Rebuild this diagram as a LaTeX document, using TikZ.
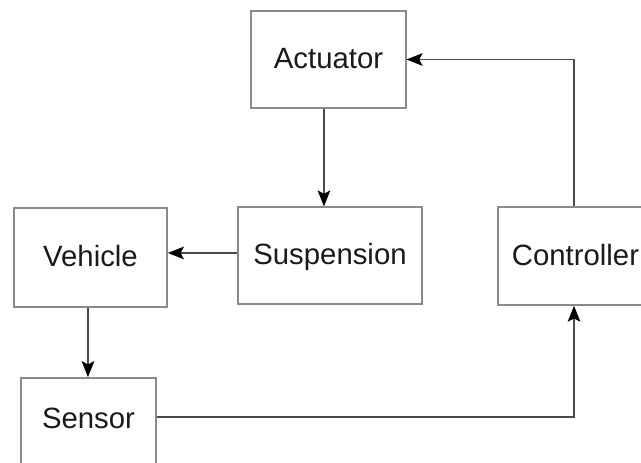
\documentclass[tikz,border=0pt]{standalone}
\usepackage{fontspec}
\setmainfont{Liberation Sans}
\usetikzlibrary{arrows.meta}
\definecolor{boxc}{HTML}{8A8A8A}
\definecolor{linec}{HTML}{4A4A4A}
\definecolor{txtc}{HTML}{1A1A1A}
\begin{document}
\begin{tikzpicture}[x=0.75pt,y=-0.75pt,
  blk/.style={draw=boxc, line width=1.1pt, fill=white, minimum height=73pt, inner sep=0pt,
     font=\fontsize{22}{26}\selectfont, text=txtc, text height=0.716em+7pt, text depth=0pt},
  lbl/.style={font=\fontsize{22}{26}\selectfont, text=txtc, inner sep=0pt, text height=0.716em+7pt, text depth=0pt},
  conn/.style={draw=linec, line width=1.1pt},
  arr/.style={conn, -{Stealth[black, length=12pt, width=9.5pt, inset=2.5pt]}}]
\useasboundingbox (0,0) rectangle (641,462);
\clip (0,0) rectangle (641,462);
\fill[white] (0,0) rectangle (641,462);
\node[blk, minimum width=116pt, minimum height=72.5pt] (actuator) at (328.5,59.5) {Actuator};
\node[blk, minimum width=138pt, minimum height=72.5pt] (suspension) at (330,255.5) {Suspension};
\node[blk, minimum width=115pt, minimum height=74pt] (vehicle) at (90.5,257.5) {Vehicle};
\node[blk, minimum width=116pt, minimum height=73.5pt] (controller) at (575.5,256) {Controller};
\node[blk, minimum width=101pt, minimum height=73pt] (sensor) at (88.5,426.5) {};
\node[lbl] (sensorlbl) at (88.5,419) {Sensor};
\draw[arr] ([xshift=-3.4pt]actuator.south) -- ([xshift=-3.4pt]actuator.south |- suspension.north);
\draw[arr] ([yshift=1.9pt]suspension.west) -- ([yshift=1.9pt]suspension.west -| vehicle.east);
\draw[arr] ([xshift=-1.9pt]vehicle.south) -- ([xshift=-1.9pt]vehicle.south |- sensor.north);
\draw[arr] ([xshift=-1.1pt]controller.north) -- ([xshift=-1.1pt]controller.north |- actuator.east) -- (actuator.east);
\draw[arr] ([yshift=1.5pt]sensor.east |- sensorlbl) -| ([xshift=-1.1pt]controller.south);
\end{tikzpicture}
\end{document}
